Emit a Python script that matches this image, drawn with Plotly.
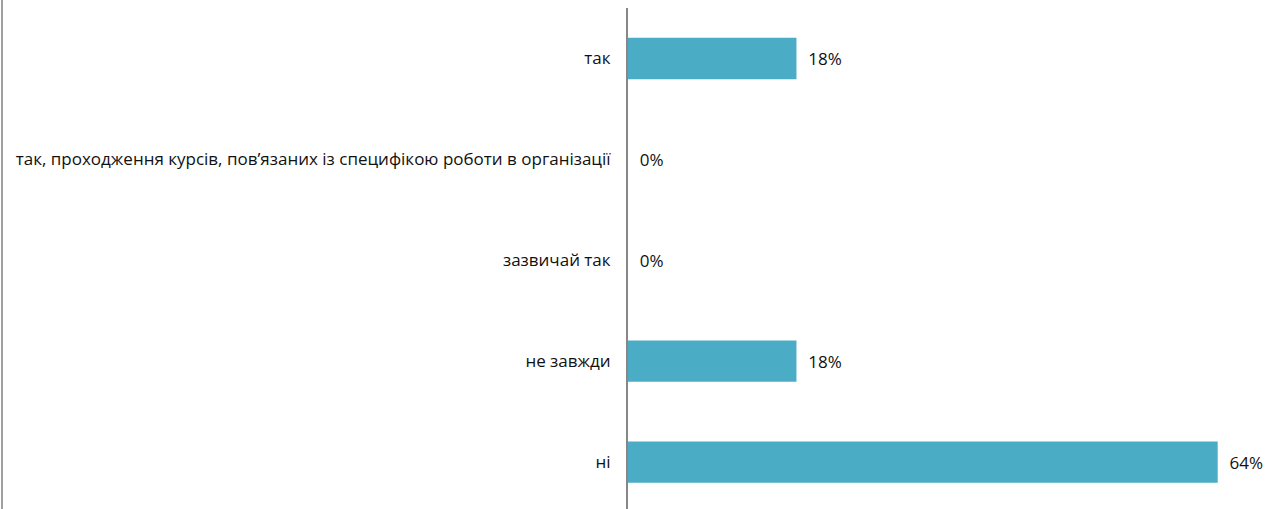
import plotly.graph_objects as go

categories = [
    "так",
    "так, проходження курсів, пов’язаних із специфікою роботи в організації",
    "зазвичай так",
    "не завжди",
    "ні",
]
values = [0.1818, 0.0, 0.0, 0.1818, 0.6364]

W, H = 1272, 509
ML, MR, MT, MB = 628, 0, 8, 0
FONT = "Open Sans"
FS = 17

fig = go.Figure(
    go.Bar(
        x=values,
        y=categories,
        orientation="h",
        marker=dict(color="#4BACC6", line=dict(width=0)),
        width=0.41,
        texttemplate="  %{x:.0%}",
        textposition="outside",
        textfont=dict(family=FONT, size=FS, color="#111111"),
        cliponaxis=False,
    )
)

fig.update_layout(
    width=W,
    height=H,
    margin=dict(l=ML, r=MR, t=MT, b=MB),
    paper_bgcolor="white",
    plot_bgcolor="white",
    showlegend=False,
    font=dict(family=FONT, size=FS, color="#111111"),
    xaxis=dict(
        range=[0, 0.695],
        showgrid=False,
        zeroline=False,
        showticklabels=False,
        showline=False,
    ),
    yaxis=dict(
        range=[4.465, -0.5],
        showgrid=False,
        zeroline=False,
        showline=True,
        linecolor="#878787",
        linewidth=2,
        ticks="",
        ticklabelstandoff=12,
        tickfont=dict(family=FONT, size=FS, color="#111111"),
    ),
    shapes=[
        dict(
            type="line",
            xref="paper",
            yref="paper",
            xsizemode="pixel",
            xanchor=0,
            x0=-ML + 2,
            x1=-ML + 2,
            y0=-0.1,
            y1=1.1,
            line=dict(color="#a0a0a0", width=2),
        )
    ],
)

fig.write_html(
    "out.html",
    config={"displayModeBar": False},
    post_script="document.body.style.margin='0';",
)
